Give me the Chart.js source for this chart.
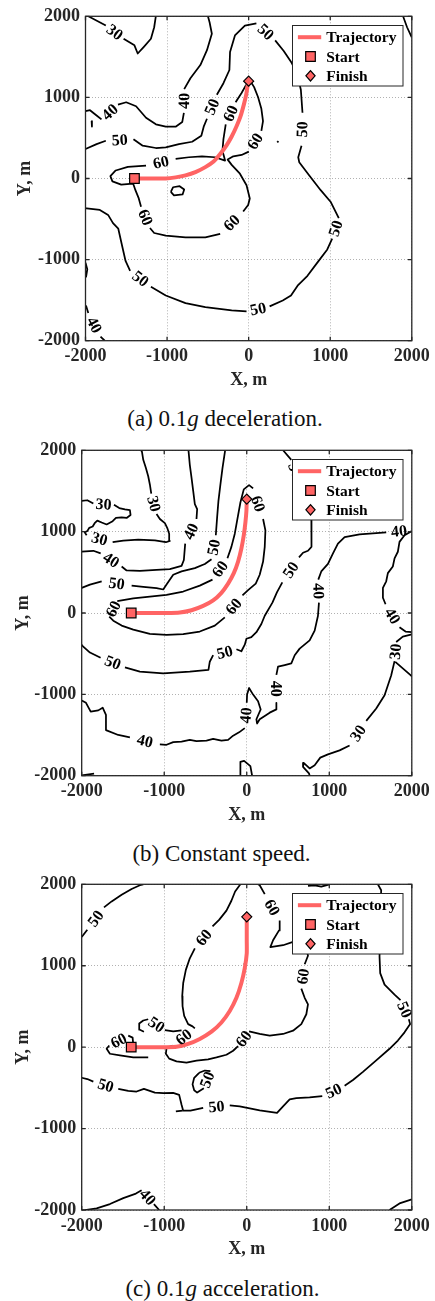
<!DOCTYPE html>
<html>
<head>
<meta charset="utf-8">
<script src="https://cdn.jsdelivr.net/npm/chart.js@4.4.1/dist/chart.umd.min.js"></script>
<style>
  html, body { margin: 0; padding: 0; background: #fff; }
  body { width: 435px; height: 1301px; position: relative; overflow: hidden; }
  .panel { position: absolute; left: 0; width: 435px; height: 400px; }
  .cap { position: absolute; width: 435px; text-align: center; white-space: nowrap;
         font-family: 'Liberation Serif', 'Times New Roman', Times, serif; font-size: 23px;
         line-height: 23px; color: #111; }
</style>
</head>
<body>
<div class="panel" style="top:0px"><canvas id="chartA" width="435" height="400"></canvas></div>
<div class="cap" style="top:407px;left:7.5px">(a) 0.1<i>g</i> deceleration.</div>
<div class="panel" style="top:434px"><canvas id="chartB" width="435" height="400"></canvas></div>
<div class="cap" style="top:842px;left:4px">(b) Constant speed.</div>
<div class="panel" style="top:868px"><canvas id="chartC" width="435" height="400"></canvas></div>
<div class="cap" style="top:1277px;left:5px">(c) 0.1<i>g</i> acceleration.</div>

<script>
// ---------------- axes ----------------
const TICK_VALUES = [-2000, -1000, 0, 1000, 2000];
const TICK_LABELS = ['-2000', '-1000', '0', '1000', '2000'];
const LEGEND_ITEMS = ['Trajectory', 'Start', 'Finish'];

// ---------------- (a) 0.1g deceleration ----------------
const A_START = [-1400, 0];
const A_FINISH = [0, 1200];
const A_TRAJ = [[-1400,0],[-1218,0],[-1016,0],[-895,14],[-774,39],[-652,79],[-531,140],[-430,209],
  [-349,302],[-269,412],[-208,518],[-147,648],[-99,769],[-59,911],[-30,1033],[-14,1135],[0,1200]];
// contour polylines; a string marks an inline level label
const A_C30 = [[-1965,2000],[-1751,1886],'30',[-1533,1724],[-1400,1642],[-1360,1541],[-1279,1630],
  [-1198,1723],[-1158,1865],[-1138,2000]];
const A_C40 = [[-2000,830],[-1945,842],[-1864,777],[-1804,729],'40',[-1602,911],[-1501,940],[-1380,891],
  [-1258,749],[-1137,668],[-1016,639],[-895,639],[-814,696],[-794,810],'40',[-790,1102],[-714,1236],
  [-592,1399],[-511,1582],[-451,1785],[-479,1927],[-499,2000]];
const A_C40_BIT = [[-1925,709],[-1921,640]];
const A_C50 = [[-2000,363],[-1864,424],[-1751,465],'50',[-1412,485],[-1299,404],[-1137,376],[-1016,384],
  [-855,424],[-693,453],[-580,526],[-551,639],[-511,737],'50',[-390,1033],[-309,1175],[-236,1338],
  [-228,1561],[-168,1764],[-46,1886],[95,1914],'50',[325,1703],[430,1573],[527,1427],[592,1297],
  [640,1094],[660,810],'50',[648,404],[608,262],[620,201],[741,39],[883,-144],[1004,-286],[1085,-449],
  [1105,-489],'50',[1024,-741],[964,-875],[842,-1037],[721,-1200],[600,-1322],[519,-1444],[418,-1504],
  [257,-1577],'50',[-26,-1638],[-208,-1626],[-531,-1585],[-774,-1537],[-1016,-1443],[-1198,-1334],'50',
  [-1453,-1139],[-1509,-1017],[-1550,-835],[-1598,-619],[-1663,-550],[-1723,-449],[-1824,-388],
  [-1986,-368],[-2000,-368]];
const A_C60 = [[-1420,-63],[-1562,-75],[-1670,-35],[-1695,30],[-1630,99],[-1481,144],[-1258,160],'60',
  [-895,242],[-733,262],[-572,274],[-410,262],[-289,221],[-321,343],[-309,485],[-281,668],'60',
  [-160,940],[-87,1054],[-38,1143],[-6,1183],[26,1192],[67,1127],[115,1005],[156,859],[176,708],
  [156,587],'60',[2,331],[-87,290],[-188,274],[-257,233],[-208,168],[-107,59],[-26,-83],[14,-246],
  [-6,-327],[-67,-408],'60',[-349,-684],[-531,-725],[-774,-725],[-1016,-705],[-1158,-672],[-1210,-611],
  '60',[-1319,-347],[-1347,-246],[-1388,-144],[-1412,-75],[-1420,-63]];
const A_C60_ISLAND = [[-954,-164],[-927,-108],[-846,-95],[-790,-136],[-810,-197],[-915,-209],[-954,-164]];
const A_DOT = [[350,461],[366,445]];
const A_CORNER = [[1893,2000],[1942,1865],[1998,1744]];
const A_C40_LOW = [[-1994,-1565],[-1966,-1659],'40',[-1816,-1951],[-1764,-2000]];
const A_EDGE = [[-2000,-1038],[-1978,-1119],[-1994,-1220]];

// ---------------- (b) constant speed ----------------
const B_START = [-1400, 0];
const B_FINISH = [0, 1400];
const B_TRAJ = [[-1400,0],[-1174,0],[-972,0],[-811,6],[-669,34],[-528,87],[-407,155],[-307,248],
  [-226,361],[-157,490],[-105,632],[-65,793],[-36,955],[-16,1116],[-4,1257],[0,1400]];
const B_C30 = [[-2000,1378],[-1932,1386],[-1859,1346],'30',[-1609,1330],[-1545,1290],[-1476,1273],
  [-1416,1265],[-1408,1205],[-1456,1168],[-1516,1176],[-1585,1168],[-1625,1128],[-1698,1088],
  [-1758,1112],[-1811,1136],[-1843,1104],[-1867,1063],[-1908,1047],[-1932,1007],[-1964,991],
  [-1940,955],'30',[-1625,870],[-1496,890],[-1315,902],[-1113,894],[-980,870],[-932,886],[-940,975],
  [-964,1047],[-992,1104],[-1053,1156],[-1093,1217],'30',[-1157,1467],[-1174,1580],[-1194,1681],
  [-1222,1782],[-1254,1883],[-1270,1984],[-1274,2000]];
const B_C40 = [[-2000,753],[-1859,765],[-1770,733],'40',[-1516,571],[-1456,523],[-1295,519],[-1093,531],
  [-932,539],[-790,579],[-762,652],[-746,853],'40',[-609,1156],[-601,1277],[-629,1338],[-649,1500],
  [-669,1661],[-690,1822],[-706,2000]];
const B_C50_WEST = [[-2000,309],[-1900,349],[-1758,389],'50',[-1395,337],[-1254,321],[-1093,305],
  [-1012,289],[-972,349],[-891,470],[-790,511],[-629,551],[-508,603],[-427,660],'50',[-375,955],
  [-359,1176],[-343,1378],[-319,1580],[-294,1782],[-262,2000]];
const B_C50_EAST = [[440,2000],[540,1883],'50',[641,1620],[742,1378],[783,1156],[786,975],[783,813],
  [742,765],[682,741],[633,684],'50',[431,377],[367,256],[311,127],[218,-34],[177,-135],[117,-236],
  [56,-297],[-4,-317],[-24,-389],[-65,-470],[-125,-446],'50',[-407,-519],[-448,-599],[-464,-700],
  [-690,-720],[-1012,-741],[-1295,-720],[-1476,-668],'50',[-1771,-551],[-1900,-486],[-1988,-406],
  [-2000,-389]];
const B_C60 = [[-1569,147],[-1375,180],[-1174,200],[-972,224],[-770,264],[-569,337],[-415,410],'60',
  [-234,672],[-186,813],[-145,975],[-113,1156],[-77,1358],[-36,1520],[28,1572],[77,1532],'60',
  [198,1156],[226,1015],[218,813],[198,632],[157,470],[109,361],[16,281],[-52,216],'60',[-266,-54],
  [-387,-155],[-569,-228],[-770,-260],[-972,-268],[-1174,-256],[-1375,-204],[-1516,-155],[-1617,-95],
  [-1666,-46],'60',[-1569,147]];
const B_C40_EAST = [[2000,1023],'40',[1690,991],[1367,967],[1186,934],[1105,854],[1045,733],[984,603],
  [903,511],[867,410],'40',[875,127],[863,-34],[823,-216],[762,-337],[641,-438],[581,-519],[540,-619],
  [460,-640],[379,-660],[359,-761],'40',[359,-1104],[359,-1185],[278,-1225],[218,-1265],[157,-1306],
  [125,-1358],[117,-1306],[169,-1185],[137,-1084],[77,-1003],[28,-922],[4,-1003],[0,-1104],'40',
  [-24,-1415],[-93,-1467],[-165,-1508],[-226,-1560],[-307,-1568],[-407,-1548],[-488,-1568],
  [-609,-1576],[-690,-1560],[-790,-1580],[-891,-1588],[-972,-1620],[-1053,-1616],'40',[-1416,-1528],
  [-1557,-1499],[-1706,-1439],[-1706,-1253],[-1746,-1164],[-1799,-1197],[-1891,-1213],[-1948,-1104],
  [-2000,-1076]];
const B_C40_RIM = [[2000,1007],[1912,955],[1851,874],[1831,753],[1791,672],[1770,571],[1710,490],
  [1690,390],[1650,309],[1650,188],[1682,107],'40',[1851,-176],[1924,-228],[2000,-236]];
const B_C30_EAST = [[2000,-262],[1891,-290],[1811,-357],'30',[1791,-591],[1750,-769],[1670,-1011],
  [1569,-1173],[1448,-1326],'30',[1246,-1629],[1125,-1689],[984,-1738],[891,-1778],[823,-1871],
  [762,-1911],[690,-1843],[682,-1891],[754,-1971],[762,-2000]];
const B_C30_SPUR = [[1800,-600],[1992,-769],[2000,-781]];
const B_CORNER = [[-2000,-1995],[-1850,-1975]];
const B_NOTCH = [[-77,-2000],[-77,-1830],[-32,-1818],[44,-1883],[65,-2000]];

// ---------------- (c) 0.1g acceleration ----------------
const C_START = [-1400, 0];
const C_FINISH = [0, 1600];
const C_TRAJ = [[-1400,0],[-1174,0],[-992,0],[-851,4],[-710,40],[-569,101],[-427,190],[-307,303],
  [-206,444],[-125,606],[-65,788],[-24,970],[0,1151],[0,1313],[0,1600]];
const C_C50_NW = [[-2000,1353],[-1932,1442],'50',[-1730,1717],[-1637,1790],[-1516,1871],[-1395,1943],
  [-1295,1988],[-1254,2000]];
const C_C60 = [[-77,2000],[-141,1911],[-186,1798],[-246,1677],[-335,1563],[-415,1483],'60',[-629,1212],
  [-690,1091],[-738,949],[-770,788],[-782,626],[-778,505],[-758,384],[-710,283],[-657,255],[-629,230],
  '60',[-899,20],[-972,-12],[-980,-81],[-940,-141],[-851,-174],[-730,-190],[-609,-166],[-468,-149],
  [-367,-125],[-246,-93],[-165,-44],[-105,12],'60',[28,194],[157,162],[278,141],[440,162],[561,202],
  [661,283],[722,404],[742,525],[702,606],[661,719],'60',[702,1018],[742,1123],[722,1212],[601,1273],
  [561,1293],[440,1252],[286,1228],[319,1313],[391,1434],[399,1555],'60',[218,1879],[157,1988],
  [137,2000]];
const C_C50 = [[1589,2000],[1629,1927],[1617,1636],[1609,1111],[1617,909],[1670,768],[1791,646],
  [1863,578],'50',[1964,343],[1980,283],[1912,182],[1831,81],[1730,-20],[1569,-162],[1408,-303],
  [1287,-404],[1186,-473],'50',[915,-602],[762,-618],[601,-626],[520,-642],[440,-727],[367,-808],
  [157,-776],[-85,-727],[-206,-715],'50',[-528,-747],[-682,-780],[-770,-780],[-790,-707],[-819,-586],
  [-892,-562],[-1012,-566],[-1113,-558],[-1246,-513],[-1335,-545],[-1436,-537],[-1557,-513],'50',
  [-1859,-424],[-1932,-392],[-2000,-376]];
const C_C50_TAIL = [[-859,-788],[-778,-780]];
const C_C50_NEAR = [[-1246,190],[-1295,214],[-1303,291],[-1254,327],[-1194,343],'50',[-992,210],
  [-891,194],[-790,206]];
const C_C60_START = [[-1194,-125],[-1375,-125],[-1537,-101],[-1658,-81],[-1698,-20],[-1666,20],'60',
  [-1436,141],[-1383,117],[-1375,28]];
const C_C50_LOOP = [[-577,-315],[-637,-376],[-657,-457],[-637,-529],[-601,-558],[-520,-505],'50',
  [-440,-295],[-508,-287],[-577,-315]];
const C_C40 = [[-1960,-2000],[-1819,-1980],[-1658,-1927],[-1496,-1854],[-1343,-1798],[-1274,-1757],'40',
  [-1125,-1927],[-1061,-2000]];
const C_CORNER = [[1730,-2000],[1851,-1919],[2000,-1870]];
const C_TOP = [[742,1980],[823,1988],[903,1971],[1004,2000]];
const C_DOT = [[-32,1030],[-16,998]];

// ---------------- styling ----------------
const FONT = "'Liberation Serif', 'Times New Roman', Times, serif";
const INK = '#262626';
const RED = '#ff6464';

function toXY(p) { return { x: p[0], y: p[1] }; }

function contourDataset(path) {
  const data = [], levelLabels = [];
  path.forEach(p => {
    if (typeof p === 'string') {
      levelLabels.push({ text: p, at: data.length });
      data.push({ x: null, y: null });
    } else {
      data.push(toXY(p));
    }
  });
  return { label: '', data, levelLabels, showLine: true, borderColor: '#000', borderWidth: 1.75,
           borderJoinStyle: 'round', pointRadius: 0, pointHoverRadius: 0, spanGaps: false };
}

function markerPath(ctx, style, x, y) {
  ctx.beginPath();
  if (style === 'rect') {
    ctx.rect(x - 4.8, y - 4.8, 9.6, 9.6);
  } else {
    ctx.moveTo(x, y - 5.2); ctx.lineTo(x + 4.6, y); ctx.lineTo(x, y + 5.2); ctx.lineTo(x - 4.6, y);
    ctx.closePath();
  }
}

// inline contour labels, frame with inward ticks, boxed legend
const overlay = {
  id: 'overlay',
  afterDatasetsDraw(chart) {
    const ctx = chart.ctx;
    const ca = chart.chartArea;
    ctx.save();
    ctx.beginPath(); ctx.rect(ca.left, ca.top, ca.right - ca.left, ca.bottom - ca.top); ctx.clip();
    ctx.font = `bold 16px ${FONT}`;
    ctx.fillStyle = '#000';
    ctx.textAlign = 'center';
    ctx.textBaseline = 'middle';
    chart.data.datasets.forEach((ds, di) => {
      if (!ds.levelLabels) return;
      const pts = chart.getDatasetMeta(di).data;
      ds.levelLabels.forEach(({ text, at }) => {
        const a = pts[at - 1], b = pts[at + 1];
        let ang = Math.atan2(b.y - a.y, b.x - a.x);
        if (ang > Math.PI / 2) ang -= Math.PI;
        else if (ang < -Math.PI / 2) ang += Math.PI;
        ctx.save();
        ctx.translate((a.x + b.x) / 2, (a.y + b.y) / 2);
        ctx.rotate(ang);
        ctx.fillText(text, 0, 1);
        ctx.restore();
      });
    });
    ctx.restore();

    // axes box
    const xs = chart.scales.x, ys = chart.scales.y;
    ctx.save();
    ctx.strokeStyle = INK;
    ctx.lineWidth = 1.3;
    ctx.strokeRect(ca.left, ca.top, ca.right - ca.left, ca.bottom - ca.top);
    ctx.beginPath();
    TICK_VALUES.forEach(v => {
      const px = xs.getPixelForValue(v), py = ys.getPixelForValue(v);
      ctx.moveTo(px, ca.bottom); ctx.lineTo(px, ca.bottom - 4);
      ctx.moveTo(px, ca.top); ctx.lineTo(px, ca.top + 4);
      ctx.moveTo(ca.left, py); ctx.lineTo(ca.left + 4, py);
      ctx.moveTo(ca.right, py); ctx.lineTo(ca.right - 4, py);
    });
    ctx.stroke();
    ctx.restore();

    // legend
    const w = 110.5, h = 60.5;
    const x0 = Math.round(ca.right - 9.5 - w) + 0.5, y0 = Math.round(ca.top + 8.5) + 0.5;
    ctx.save();
    ctx.fillStyle = '#fff';
    ctx.fillRect(x0, y0, w, h);
    ctx.strokeStyle = INK;
    ctx.lineWidth = 1;
    ctx.strokeRect(x0, y0, w, h);
    const rows = [11.7, 31, 50.3];
    ctx.font = `bold 15.5px ${FONT}`;
    ctx.textAlign = 'left';
    ctx.textBaseline = 'middle';
    LEGEND_ITEMS.forEach((name, i) => {
      const ds = chart.data.datasets.find(d => d.label === name);
      const y = y0 + rows[i];
      if (ds.showLine) {
        ctx.strokeStyle = ds.borderColor;
        ctx.lineWidth = ds.borderWidth;
        ctx.beginPath(); ctx.moveTo(x0 + 5.4, y); ctx.lineTo(x0 + 28.7, y); ctx.stroke();
      } else {
        markerPath(ctx, ds.pointStyle, x0 + 18, y);
        ctx.fillStyle = ds.backgroundColor; ctx.fill();
        ctx.strokeStyle = ds.borderColor; ctx.lineWidth = ds.borderWidth; ctx.stroke();
      }
      ctx.fillStyle = '#000';
      ctx.fillText(name, x0 + 33.7, y + 1);
    });
    ctx.restore();
  }
};

function axis(titleText, isX, area) {
  return {
    type: 'linear',
    position: isX ? 'bottom' : 'left',
    min: -2000, max: 2000,
    afterBuildTicks: s => { s.ticks = TICK_VALUES.map(v => ({ value: v })); },
    afterFit: s => { if (isX) s.height = 50; else s.width = area.left; },
    ticks: { autoSkip: false, maxRotation: 0, minRotation: 0, padding: isX ? 5.2 : 5.5, color: INK,
             font: { family: FONT, size: 18, weight: 'bold' }, callback: (v, i) => TICK_LABELS[i] },
    grid: { drawTicks: false, color: 'rgba(60,60,60,0.5)', lineWidth: 0.8 },
    border: { display: false, dash: [1, 2] },
    title: { display: true, text: titleText, color: INK, font: { family: FONT, size: 18, weight: 'bold' },
             padding: isX ? { top: 0, bottom: 0 } : { top: area.yTitle - 10.8, bottom: 0 } }
  };
}

function buildPanel(id, traj, start, finish, contours, area) {
  const markerBase = { showLine: false, backgroundColor: RED, borderColor: '#000', borderWidth: 1.2 };
  const datasets = [
    Object.assign({ label: 'Start', data: [toXY(start)], pointStyle: 'rect', pointRadius: 6.8 }, markerBase),
    Object.assign({ label: 'Finish', data: [toXY(finish)], pointStyle: 'rectRot', pointRadius: 5 }, markerBase),
    { label: 'Trajectory', data: traj.map(toXY), showLine: true, borderColor: RED, borderWidth: 4,
      pointRadius: 0, borderJoinStyle: 'round', tension: 0.2 },
    ...contours.map(contourDataset)
  ];
  return new Chart(document.getElementById(id), {
    type: 'scatter',
    data: { datasets },
    options: {
      responsive: false, animation: false, events: [], devicePixelRatio: 1,
      layout: { padding: { left: 0, top: area.top, right: 435 - area.right, bottom: 400 - area.bottom - 50 } },
      plugins: { legend: { display: false }, tooltip: { enabled: false } },
      scales: { x: axis('X, m', true, area), y: axis('Y, m', false, area) }
    },
    plugins: [overlay]
  });
}

buildPanel('chartA', A_TRAJ, A_START, A_FINISH,
  [A_C30, A_C40, A_C40_BIT, A_C50, A_C60, A_C60_ISLAND, A_DOT, A_CORNER, A_C40_LOW, A_EDGE],
  { left: 85.5, right: 415.5, top: 11.7, bottom: 340.7, yTitle: 25 });
buildPanel('chartB', B_TRAJ, B_START, B_FINISH,
  [B_C30, B_C40, B_C50_WEST, B_C50_EAST, B_C60, B_C40_EAST, B_C40_RIM, B_C30_EAST, B_C30_SPUR, B_CORNER, B_NOTCH],
  { left: 81.7, right: 412.3, top: 11.3, bottom: 341.7, yTitle: 23.3 });
buildPanel('chartC', C_TRAJ, C_START, C_FINISH,
  [C_C50_NW, C_C60, C_C50, C_C50_TAIL, C_C50_NEAR, C_C60_START, C_C50_LOOP, C_C40, C_CORNER, C_TOP, C_DOT],
  { left: 81.7, right: 412.3, top: 12, bottom: 342, yTitle: 23.3 });
</script>
</body>
</html>
